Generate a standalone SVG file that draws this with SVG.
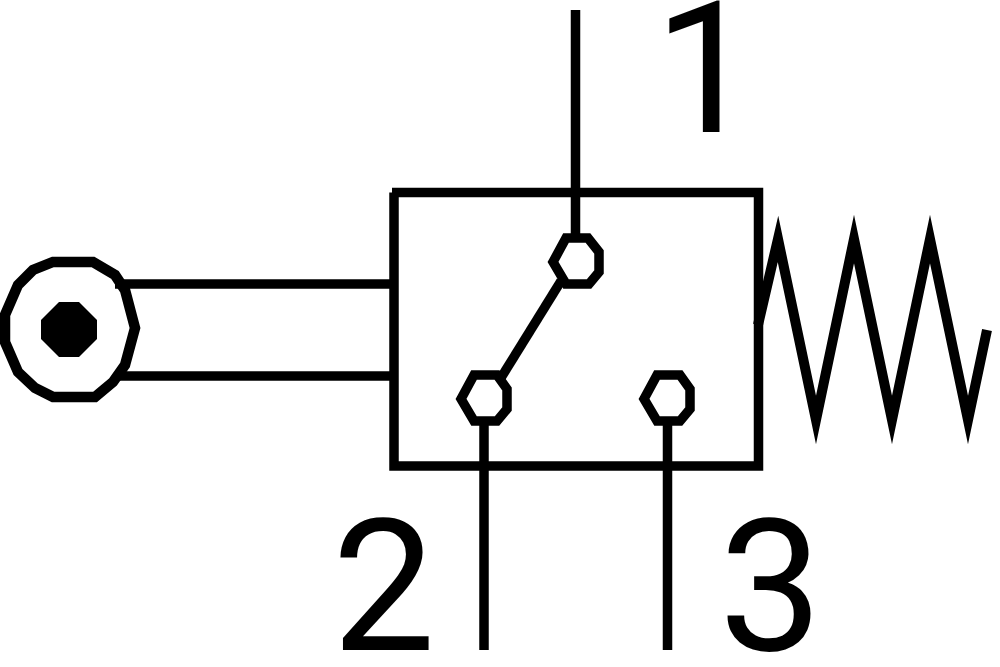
<svg xmlns="http://www.w3.org/2000/svg" width="1000" height="667" viewBox="0 0 1000 667">
<style>
.l{fill:none;stroke:#000;stroke-width:9.5;stroke-miterlimit:10}
.t{font-family:Roboto,"Liberation Sans",Arial,sans-serif;font-size:184px;fill:#000}
</style>
<rect width="1000" height="667" fill="#fff"/>
<g id="connectors">
<path class="l" d="M575.500 10V238"/>
<path class="l" d="M561 281L499 381"/>
<path class="l" d="M484 420V650"/>
<path class="l" d="M667.500 420V650"/>
<path class="l" d="M115 284H392"/>
<path class="l" d="M115 376H392"/>
<path class="l" style="stroke-width:10" d="M758 325L778 239L816 420L854 239L892 420L930 239L968 420L987 330"/>
</g>
<g id="valve-body"><path class="l" d="M392 192.500H758.500V466H394V192.500"/></g>
<g id="port-1"><polygon class="l" points="553,262 566,238 588,238 599,252 599,272 589,284 566,284"/></g>
<g id="port-2"><polygon class="l" points="461,399 474,375 497,375 507,389 507,409 497,421 474,421"/></g>
<g id="port-3"><polygon class="l" points="644,399 657,375 680,375 690,389 690,409 680,421 657,421"/></g>
<g id="roller">
<polygon class="l" style="stroke-width:10.500" points="53,262 93,262 115,275 125,290 135,328 125,365 113,382 95,397 53,397 35,388 18,372 5,342 5,315 18,285 33,270"/>
<polygon points="59,302 79,302 97,320 97,339 79,357 59,357 41,339 41,320" fill="#000"/>
</g>
<g id="labels">
<text class="t" x="654" y="132">1</text>
<text class="t" x="332" y="650">2</text>
<text class="t" x="719" y="650">3</text>
</g>
</svg>
